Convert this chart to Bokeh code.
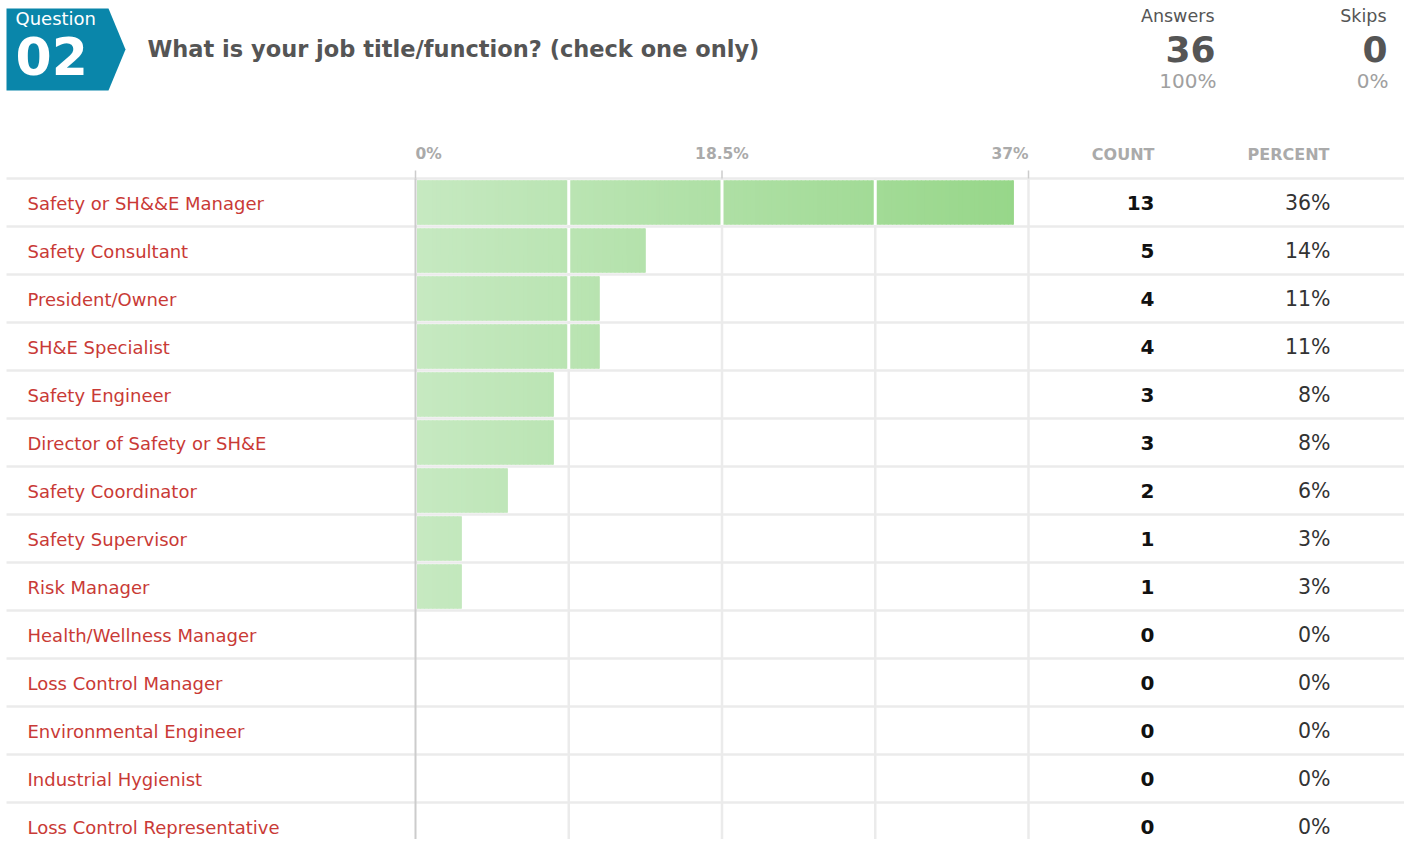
import numpy as np
from bokeh.plotting import figure
from bokeh.models import Range1d
from bokeh.core.properties import value
from bokeh.embed import file_html
from bokeh.resources import INLINE

# ---------------- data ----------------
question_no = "02"
question = "What is your job title/function? (check one only)"
answers_total = 36
skips_total = 0
categories = [
    "Safety or SH&&E Manager", "Safety Consultant", "President/Owner",
    "SH&E Specialist", "Safety Engineer", "Director of Safety or SH&E",
    "Safety Coordinator", "Safety Supervisor", "Risk Manager",
    "Health/Wellness Manager", "Loss Control Manager",
    "Environmental Engineer", "Industrial Hygienist",
    "Loss Control Representative",
]
counts = [13, 5, 4, 4, 3, 3, 2, 1, 1, 0, 0, 0, 0, 0]
axis_max = 37.0
axis_ticks = [0.0, 18.5, 37.0]
axis_tick_labels = ["0%", "18.5%", "37%"]
grid_positions = [9.25, 18.5, 27.75]

FONT = value("DejaVu Sans")
W, H = 1404, 839
X0, X1 = 415.0, 1028.0          # px of 0% and 37%
SX = (X1 - X0) / axis_max
ROW0, ROWH = 202.0, 48.0        # px of first row centre, row height


def dx(px):  # px -> data x
    return (px - X0) / SX


def dy(py):  # px -> data y
    return (py - ROW0) / ROWH


p = figure(width=W, height=H, output_backend="svg", toolbar_location=None,
           x_axis_type=None, y_axis_type=None, min_border=0,
           x_range=Range1d(dx(0), dx(W)), y_range=Range1d(dy(H), dy(0)))
p.outline_line_color = None
p.xgrid.visible = False
p.ygrid.visible = False
p.background_fill_color = "white"

n = len(categories)
pct = [100.0 * c / answers_total for c in counts]
rows = list(range(n))

# ---------------- header ----------------
bx = [dx(6), dx(108), dx(125), dx(108), dx(6)]
by = [dy(8), dy(8), dy(49), dy(90), dy(90)]
p.patch(bx, by, fill_color="#0a86aa", line_color=None)
p.text(x=[dx(15)], y=[dy(18)], text=["Question"], text_color="white",
       text_font=FONT, text_font_size="18px", text_baseline="alphabetic")
p.text(x=[dx(15)], y=[dy(55)], text=[question_no], text_color="white",
       text_font=FONT, text_font_size="52px", text_font_style="bold",
       text_baseline="alphabetic")
p.text(x=[dx(147)], y=[dy(48)], text=[question], text_color="#555555",
       text_font=FONT, text_font_size="22.5px", text_font_style="bold",
       text_baseline="alphabetic")

p.text(x=[dx(1214), dx(1386)], y=[dy(15)] * 2, text=["Answers", "Skips"],
       text_color="#555555", text_font=FONT, text_font_size="17.5px",
       text_align="right", text_baseline="alphabetic")
p.text(x=[dx(1215), dx(1387)], y=[dy(48.5)] * 2,
       text=[str(answers_total), str(skips_total)],
       text_color="#555555", text_font=FONT, text_font_size="36px",
       text_font_style="bold", text_align="right", text_baseline="alphabetic")
p.text(x=[dx(1216), dx(1388)], y=[dy(80)] * 2,
       text=[f"{100 * answers_total // (answers_total + skips_total)}%",
             f"{100 * skips_total // (answers_total + skips_total)}%"],
       text_color="#a0a0a0", text_font=FONT, text_font_size="20px",
       text_align="right", text_baseline="alphabetic")

# column headers
aligns = ["left", "center", "right"]
for t, lab, al in zip(axis_ticks, axis_tick_labels, aligns):
    p.text(x=[t], y=[dy(153.5)], text=[lab], text_color="#aaaaaa",
           text_font=FONT, text_font_size="15.5px", text_font_style="bold",
           text_align=al, text_baseline="alphabetic")
p.text(x=[dx(1154), dx(1329)], y=[dy(153.5)] * 2, text=["COUNT", "PERCENT"],
       text_color="#aaaaaa", text_font=FONT, text_font_size="16px",
       text_font_style="bold", text_align="right", text_baseline="alphabetic")

# ---------------- grid ----------------
top_y = -0.5
bottom_y = dy(H)
p.segment(x0=[dx(6)] * (n + 1), x1=[dx(W)] * (n + 1),
          y0=[r - 0.5 for r in range(n + 1)], y1=[r - 0.5 for r in range(n + 1)],
          line_color="#ebebeb", line_width=2.5)
p.segment(x0=grid_positions + [axis_max], x1=grid_positions + [axis_max],
          y0=[top_y] * 4, y1=[bottom_y] * 4, line_color="#ebebeb", line_width=2.5)
p.segment(x0=axis_ticks, x1=axis_ticks, y0=[dy(170)] * 3, y1=[top_y] * 3,
          line_color="#cccccc", line_width=1.5)
p.segment(x0=[0], x1=[0], y0=[top_y], y1=[bottom_y], line_color="#cccccc",
          line_width=2)

# ---------------- bars (horizontal gradient) ----------------
c0 = np.array([0xc6, 0xe9, 0xc1])
c1 = np.array([0x96, 0xd6, 0x88])
gap = dx(X0 + 1.5)
bar_rows = [r for r, v in zip(rows, pct) if v > 0]
bar_vals = [v for v in pct if v > 0]
# solid base under each bar (hides slice seams)
base_cols = ["#%02x%02x%02x" % tuple((c0 + (c1 - c0) * (v / 2 / axis_max)).round().astype(int))
             for v in bar_vals]
p.quad(left=[gap] * len(bar_vals), right=bar_vals,
       top=[r - 0.46 for r in bar_rows], bottom=[r + 0.46 for r in bar_rows],
       fill_color=base_cols, line_color=None)

step = 0.25
ql, qr, qt, qb, qc = [], [], [], [], []
for r, v in zip(bar_rows, bar_vals):
    edges = list(np.arange(0, v, step)) + [v]
    for a, b in zip(edges[:-1], edges[1:]):
        f = ((a + b) / 2) / axis_max
        col = (c0 + (c1 - c0) * f).round().astype(int)
        ql.append(gap if a == 0 else a)
        qr.append(min(b + 0.08, v))
        qt.append(r - 0.46)
        qb.append(r + 0.46)
        qc.append("#%02x%02x%02x" % tuple(col))
p.quad(left=ql, right=qr, top=qt, bottom=qb, fill_color=qc, line_color=None)

# white separators over bars at grid positions
wx, wy0, wy1 = [], [], []
for r, v in zip(rows, pct):
    for g in grid_positions:
        if v > g:
            wx.append(g)
            wy0.append(r - 0.47)
            wy1.append(r + 0.47)
p.segment(x0=wx, x1=wx, y0=wy0, y1=wy1, line_color="white", line_width=3)

# ---------------- row texts ----------------
base = 0.5 / ROWH
p.text(x=[dx(27)] * n, y=[r + base for r in rows], text=categories,
       text_color="#c93a36", text_font=FONT, text_font_size="18px",
       text_baseline="alphabetic")
p.text(x=[dx(1154)] * n, y=[r + base for r in rows],
       text=[str(c) for c in counts], text_color="#111111", text_font=FONT,
       text_font_size="20px", text_font_style="bold", text_align="right",
       text_baseline="alphabetic")
p.text(x=[dx(1330)] * n, y=[r + base for r in rows],
       text=[f"{round(v)}%" for v in pct], text_color="#333333", text_font=FONT,
       text_font_size="20.5px", text_align="right", text_baseline="alphabetic")

open("out.html", "w").write(file_html(p, INLINE))
